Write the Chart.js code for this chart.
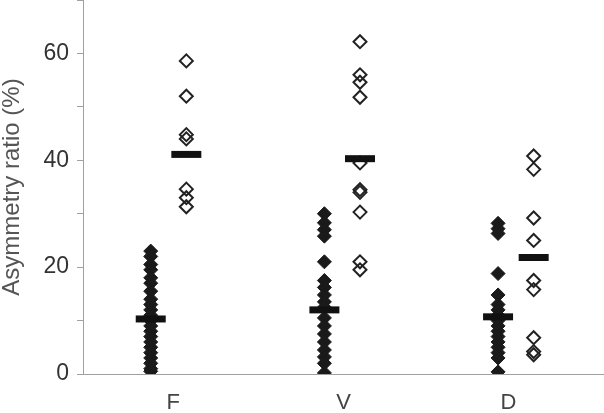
<!DOCTYPE html>
<html>
<head>
<meta charset="utf-8">
<script src="https://cdn.jsdelivr.net/npm/chart.js@4"></script>
<style>
  body { margin: 0; background: #fff; }
  #wrap { width: 604px; height: 413px; position: relative; }
</style>
</head>
<body>
<div id="wrap"><canvas id="chart"></canvas></div>
<script>
// groups on the x axis
const categories = ['F', 'V', 'D'];

// filled diamonds (left column of each group)
const filledF = [23, 22, 20.5, 19.5, 18, 17, 15.5, 14, 13, 12, 11, 10, 9, 8, 7, 6, 5, 4, 3, 2, 1, 0.5];
const filledV = [30, 28.3, 27, 25.8, 21, 17.5, 16.2, 14.8, 13.5, 12.5, 10.5, 9, 7.5, 6, 4.5, 3.2, 2, 0.2];
const filledD = [28.2, 27.2, 26.3, 18.8, 14.8, 13, 12, 11, 10, 9, 8, 7, 6, 5, 4, 3, 0.4];

// open diamonds (right column of each group)
const openF = [58.6, 52, 44.8, 44, 34.6, 33, 31.3];
const openV = [62.2, 56, 54.6, 51.8, 39.5, 34.5, 34, 30.3, 21, 19.5];
const openD = [40.8, 38.3, 29.2, 25, 17.5, 15.8, 6.8, 4.2, 3.6];

// mean bars
const meanFilled = [10.3, 12, 10.7];
const meanOpen = [41.1, 40.3, 21.8];

const yTicks = [0, 20, 40, 60];

const filledSets = [filledF, filledV, filledD];
const openSets = [openF, openV, openD];

function toPoints(sets, off) {
  const pts = [];
  sets.forEach((vals, i) => vals.forEach(v => pts.push({ x: i + off, y: v })));
  return pts;
}

const FILL_OFF = 0.39, OPEN_OFF = 0.595;
const LABEL_POS = [0.52, 1.5, 2.45];

const ctx = document.getElementById('chart');
new Chart(ctx, {
  type: 'scatter',
  data: {
    datasets: [
      {
        label: 'mean filled',
        data: meanFilled.map((v, i) => ({ x: i + FILL_OFF, y: v })),
        pointStyle: 'line', pointRadius: 15, borderWidth: 7,
        borderColor: '#111', backgroundColor: '#111', order: 0
      },
      {
        label: 'mean open',
        data: meanOpen.map((v, i) => ({ x: i + OPEN_OFF, y: v })),
        pointStyle: 'line', pointRadius: 15, borderWidth: 7,
        borderColor: '#111', backgroundColor: '#111', order: 0
      },
      {
        label: 'filled',
        data: toPoints(filledSets, FILL_OFF),
        pointStyle: 'rectRot', pointRadius: 7, borderWidth: 1,
        borderColor: '#1a1a1a', backgroundColor: '#1a1a1a', order: 1
      },
      {
        label: 'open',
        data: toPoints(openSets, OPEN_OFF),
        pointStyle: 'rectRot', pointRadius: 6.5, borderWidth: 2,
        borderColor: '#222', backgroundColor: 'rgba(0,0,0,0)', order: 1
      }
    ]
  },
  options: {
    responsive: true,
    maintainAspectRatio: false,
    animation: false,
    layout: { padding: 0, autoPadding: false },
    plugins: { legend: { display: false }, tooltip: { enabled: false } },
    scales: {
      x: {
        type: 'linear', min: 0, max: 3,
        afterBuildTicks: (s) => { s.ticks = LABEL_POS.map(p => ({ value: p })); },
        afterFit: (s) => { s.height = 39; s.paddingLeft = 0; s.paddingRight = 0; },
        ticks: {
          callback: (v, i) => categories[i],
          color: '#444', padding: 16, maxRotation: 0,
          font: { family: 'Liberation Sans', size: 22 }
        },
        grid: { drawOnChartArea: false, drawTicks: false },
        border: { color: '#a0a0a0', width: 1 }
      },
      y: {
        min: 0, max: 70,
        afterFit: (s) => { s.width = 83; s.paddingTop = 0; s.paddingBottom = 0; },
        ticks: {
          stepSize: 10,
          callback: (v) => yTicks.includes(v) ? v : '',
          color: '#333', padding: 8,
          font: { family: 'Liberation Sans', size: 23 }
        },
        grid: { drawOnChartArea: false, tickLength: 6, color: '#a0a0a0' },
        border: { color: '#a0a0a0', width: 1 },
        title: {
          display: true, text: 'Asymmetry ratio (%)', color: '#555',
          padding: { top: 0, bottom: 0 },
          font: { family: 'Liberation Sans', size: 24, lineHeight: 1 }
        }
      }
    }
  }
});
</script>
</body>
</html>
